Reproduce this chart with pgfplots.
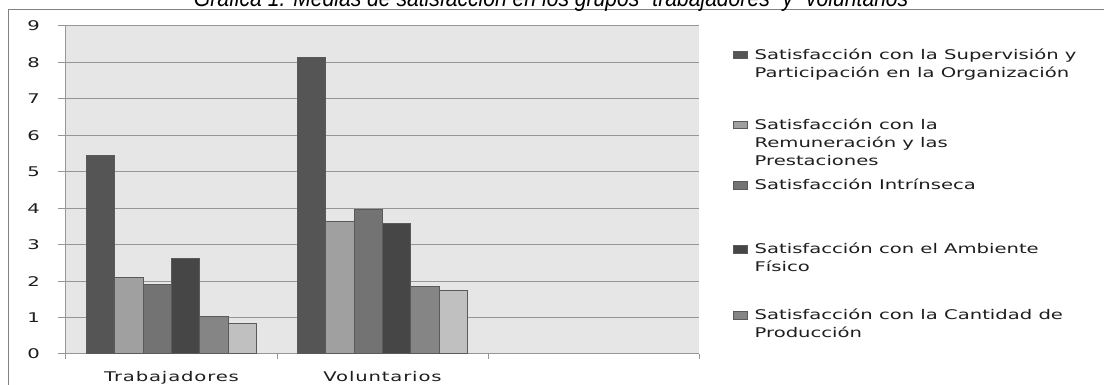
\documentclass[border=0pt]{standalone}
\usepackage{pgfplots}
\pgfplotsset{compat=1.18}
\usepackage{fontspec}
\setmainfont{DejaVu Sans}
\newfontfamily\legfont[FakeStretch=1.47]{DejaVu Sans}
\newfontfamily\xtfont[FakeStretch=1.47,LetterSpace=6.4]{DejaVu Sans}
\newfontfamily\titlefont[FakeStretch=0.88]{Liberation Sans}
\definecolor{cA}{RGB}{85,85,85}
\definecolor{cB}{RGB}{160,160,160}
\definecolor{cC}{RGB}{115,115,115}
\definecolor{cD}{RGB}{70,70,70}
\definecolor{cE}{RGB}{133,133,133}
\definecolor{cF}{RGB}{192,192,192}
\definecolor{gridc}{RGB}{150,150,150}
\definecolor{bgc}{RGB}{230,230,230}
\definecolor{edgec}{RGB}{90,90,90}
\definecolor{txtc}{RGB}{30,30,30}
\definecolor{framec}{RGB}{130,130,130}
\newcommand{\legtext}[2]{\parbox[t]{270pt}{\raggedright\baselineskip=13.5pt\rule{0pt}{7.8pt}#1\rule[-#2]{0pt}{#2}}}
\pgfplotsset{mybar/.style={ybar, bar width=21.25pt, draw=edgec, line width=0.75pt,
  legend image code/.code={\draw[##1, line width=0.75pt] (0pt,0.5pt) rectangle (10.5pt,6pt);}}}
\begin{document}
\begin{tikzpicture}
\useasboundingbox (0,0) rectangle (828pt,288.75pt);
\clip (0,0) rectangle (828pt,288.75pt);
\draw[framec, line width=0.75pt] (6pt,-10pt) -- (6pt,281.25pt) -- (840pt,281.25pt);
\node[anchor=base, font=\titlefont\itshape\fontsize{18}{20}\selectfont, text=black, inner sep=0pt] at (416pt,283.9pt) {Gráfica 1. Medias de satisfacción en los grupos “trabajadores” y “voluntarios”};
\begin{axis}[
  at={(49.5pt,23.25pt)}, anchor=south west,
  scale only axis, width=474.75pt, height=246pt,
  xmin=-0.5, xmax=2.5, ymin=0, ymax=9,
  ytick={0,1,...,9},
  xtick={0,1}, xticklabels={Trabajadores,Voluntarios},
  minor xtick={-0.5,0.5,1.5,2.5},
  axis x line*=bottom, axis y line*=left,
  axis line style={draw=gridc, line width=0.75pt, -},
  axis background/.style={fill=bgc},
  ymajorgrids, major grid style={draw=gridc, line width=0.75pt},
  tick align=outside, major tick length=6pt, minor tick length=3.75pt,
  tick style={draw=gridc, line width=0.75pt},
  major x tick style={draw=none},
  /pgf/number format/assume math mode=true,
  yticklabel style={font=\legfont\fontsize{10}{12}\selectfont, text=txtc, anchor=east, inner sep=0pt, xshift=-13.5pt},
  xticklabel style={font=\xtfont\fontsize{10}{12}\selectfont, text=txtc, anchor=base, inner sep=0pt, yshift=-14.6pt},
  legend style={at={(1.0537,0.9311)}, anchor=north west, draw=none, fill=none,
    inner sep=0pt, outer sep=0pt, row sep=0pt, column sep=5pt,
    font=\legfont\fontsize{10}{13.5}\selectfont, text=txtc,
    nodes={inner sep=0pt, text depth=}, cells={anchor=base west}},
]
\addplot[mybar, bar shift=-53.125pt, fill=cA] coordinates {(0,5.45) (1,8.13)};
\addlegendentry{\legtext{Satisfacción con la Supervisión y\\Participación en la Organización}{31.2pt}}
\addplot[mybar, bar shift=-31.875pt, fill=cB] coordinates {(0,2.09) (1,3.64)};
\addlegendentry{\legtext{Satisfacción con la\\Remuneración y las\\Prestaciones}{10.2pt}}
\addplot[mybar, bar shift=-10.625pt, fill=cC] coordinates {(0,1.92) (1,3.97)};
\addlegendentry{\legtext{Satisfacción Intrínseca}{40pt}}
\addplot[mybar, bar shift=10.625pt, fill=cD] coordinates {(0,2.63) (1,3.57)};
\addlegendentry{\legtext{Satisfacción con el Ambiente\\Físico}{28pt}}
\addplot[mybar, bar shift=31.875pt, fill=cE] coordinates {(0,1.03) (1,1.84)};
\addlegendentry{\legtext{Satisfacción con la Cantidad de\\Producción}{4pt}}
\addplot[mybar, bar shift=53.125pt, fill=cF, forget plot] coordinates {(0,0.84) (1,1.75)};
\end{axis}
\end{tikzpicture}
\end{document}
